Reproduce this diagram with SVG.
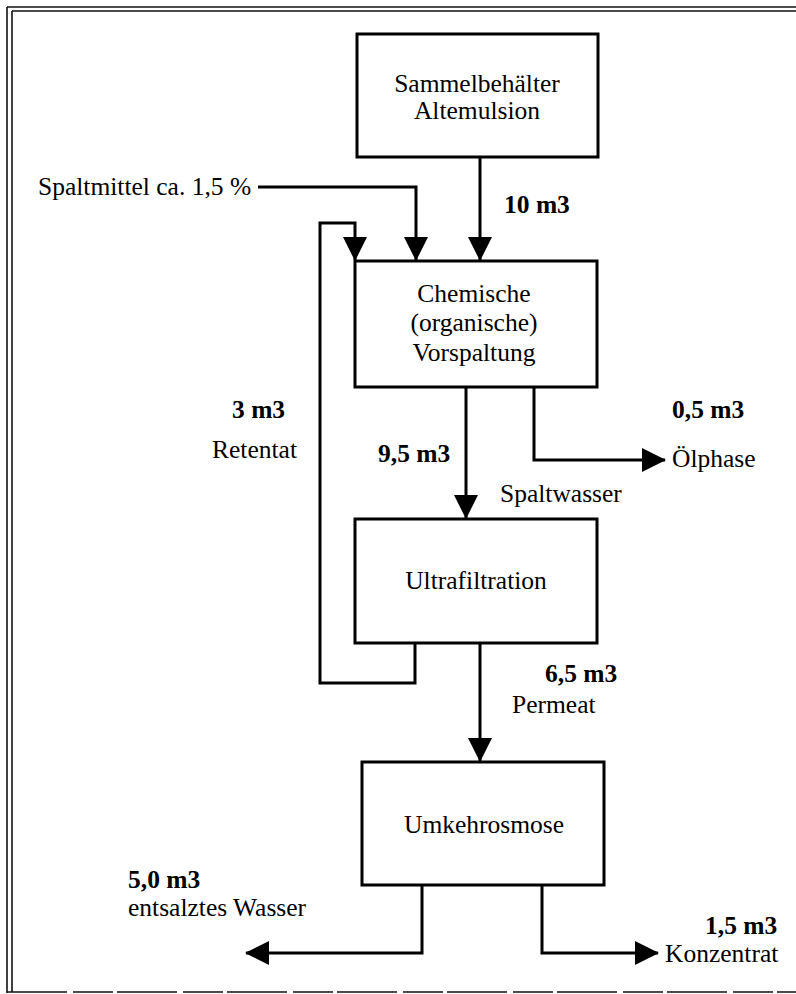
<svg xmlns="http://www.w3.org/2000/svg" width="796" height="994" viewBox="0 0 796 994">
  <defs>
    <style>
      .box { fill: #fff; stroke: #000; stroke-width: 3; }
      .flow { fill: none; stroke: #000; stroke-width: 3; }
      .frame { fill: none; stroke: #111; stroke-width: 1.6; }
      text { font-family: "Liberation Serif", "Times New Roman", "DejaVu Serif", serif; font-size: 25.5px; fill: #000; }
      .c { text-anchor: middle; }
      .b { font-weight: bold; }
    </style>
    <marker id="head" viewBox="0 0 24 24" refX="23" refY="12" markerWidth="24" markerHeight="24" markerUnits="userSpaceOnUse" orient="auto">
      <path d="M0,0 L24,12 L0,24 Z" fill="#000"/>
    </marker>
  </defs>

  <rect width="796" height="994" fill="#fff"/>

  <!-- page frame -->
  <g id="frame">
    <line class="frame" x1="7" y1="7" x2="796" y2="7"/>
    <line class="frame" x1="12" y1="11" x2="796" y2="11"/>
    <line class="frame" x1="7" y1="7" x2="7" y2="993"/>
    <line class="frame" x1="12" y1="11" x2="12" y2="992"/>
    <line class="frame" x1="7" y1="992" x2="796" y2="992" stroke-dasharray="60 6 40 4"/>
  </g>

  <!-- process steps -->
  <g id="sammelbehaelter">
    <rect class="box" x="357" y="34" width="241" height="123"/>
    <text class="c" x="477" y="92">Sammelbehälter</text>
    <text class="c" x="477" y="119">Altemulsion</text>
  </g>

  <g id="vorspaltung">
    <rect class="box" x="355" y="261" width="242" height="126"/>
    <text class="c" x="474" y="302">Chemische</text>
    <text class="c" x="474" y="331">(organische)</text>
    <text class="c" x="474" y="361">Vorspaltung</text>
  </g>

  <g id="ultrafiltration">
    <rect class="box" x="355" y="519" width="242" height="124"/>
    <text class="c" x="476" y="589">Ultrafiltration</text>
  </g>

  <g id="umkehrosmose">
    <rect class="box" x="362" y="762" width="242" height="123"/>
    <text class="c" x="484" y="833">Umkehrosmose</text>
  </g>

  <!-- flows between steps -->
  <g id="connectors">
    <path class="flow" d="M480,157 V260" marker-end="url(#head)"/>
    <path class="flow" d="M258,187 H416 V260" marker-end="url(#head)"/>
    <path class="flow" d="M415,643 V683 H320 V223 H355 V260" marker-end="url(#head)"/>
    <path class="flow" d="M466,387 V518" marker-end="url(#head)"/>
    <path class="flow" d="M534,387 V460 H665" marker-end="url(#head)"/>
    <path class="flow" d="M480,643 V761" marker-end="url(#head)"/>
    <path class="flow" d="M422,885 V953 H246" marker-end="url(#head)"/>
    <path class="flow" d="M542,885 V953 H658" marker-end="url(#head)"/>
  </g>

  <!-- stream labels -->
  <g id="labels">
    <text x="38" y="195">Spaltmittel ca. 1,5 %</text>
    <text class="b" x="504" y="213">10 m3</text>
    <text class="b" x="232" y="418">3 m3</text>
    <text x="212" y="458">Retentat</text>
    <text class="b" x="378" y="462">9,5 m3</text>
    <text x="500" y="502">Spaltwasser</text>
    <text class="b" x="672" y="418">0,5 m3</text>
    <text x="672" y="467">Ölphase</text>
    <text class="b" x="545" y="682">6,5 m3</text>
    <text x="512" y="713">Permeat</text>
    <text class="b" x="128" y="888">5,0 m3</text>
    <text x="128" y="916">entsalztes Wasser</text>
    <text class="b" x="705" y="934">1,5 m3</text>
    <text x="665" y="962">Konzentrat</text>
  </g>
</svg>
